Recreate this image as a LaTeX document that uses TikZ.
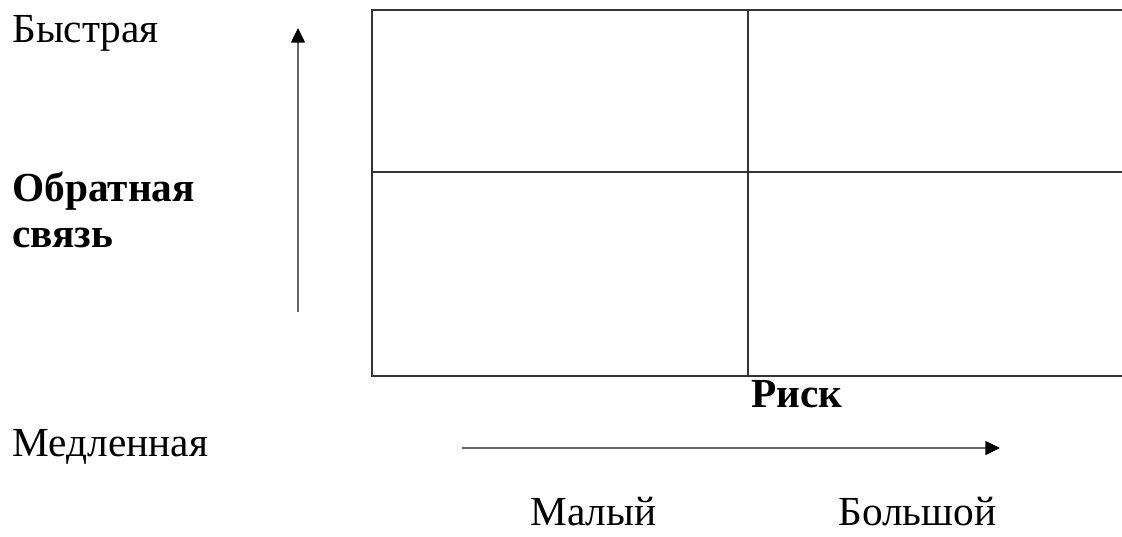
\documentclass[tikz,border=0pt]{standalone}
\usepackage{fontspec}
\setmainfont{Liberation Serif}
\usetikzlibrary{arrows.meta}

\begin{document}
\begin{tikzpicture}[x=0.75pt,y=-0.75pt,
    semithick,
    word/.style={anchor=base west,inner sep=0pt,font=\fontsize{31}{36}\selectfont},
    boldword/.style={anchor=base west,inner sep=0pt,font=\fontsize{31}{36}\selectfont\bfseries},
    frame/.style={line width=1.1pt,draw=black!80},
    axis/.style={line width=1.1pt,draw=black!60,-{Triangle[length=11pt,width=10.5pt,color=black]}}
    ]
\useasboundingbox (0,0) rectangle (1122,536);

\node[word] (F) at (12,42) {Быстрая};
\node[boldword] (O) at (12,201) {Обратная};
\node[boldword] (C) at (12,247) {связь};
\node[word] (S) at (12,456) {Медленная};
\node[boldword,anchor=base] (R) at (797,407) {Риск};
\node[word] (L) at (530,525) {Малый};
\node[word] (H) at (838,525) {Большой};

\coordinate (V0) at (298,312);
\coordinate (V1) at (298,28);
\coordinate (H0) at (462,448);
\coordinate (H1) at (1000,448);
\draw[axis] (V0) -- (V1);
\draw[axis] (H0) -- (H1);

% matrix
\draw[frame] (1122,10) -- (372,10) -- (372,376) -- (1122,376);
\draw[frame] (748,10) -- (748,376);
\draw[frame] (372,172) -- (1122,172);
\end{tikzpicture}
\end{document}
